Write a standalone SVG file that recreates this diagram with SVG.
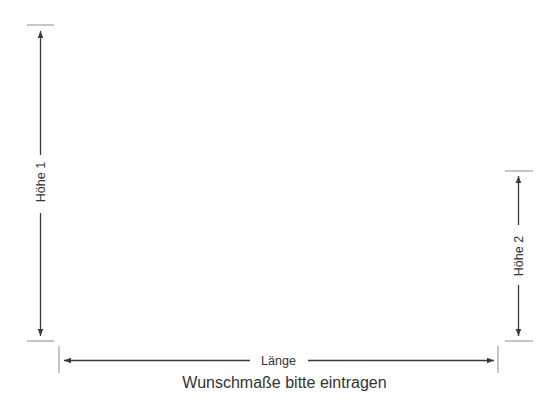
<svg xmlns="http://www.w3.org/2000/svg" width="560" height="420" viewBox="0 0 560 420">
<style>
.dim{stroke:#3a3a3a;stroke-width:1.3;fill:none}
.tick{stroke:#a0a0a0;stroke-width:1.2;fill:none}
.lbl{font-family:"Liberation Sans",Arial,sans-serif;font-size:12.5px;fill:#333;text-anchor:middle}
.cap{font-family:"Liberation Sans",Arial,sans-serif;font-size:16px;fill:#333;text-anchor:middle}
</style>
<defs>
<marker id="ah" viewBox="0 0 10 10" refX="10" refY="5" markerWidth="7" markerHeight="7" markerUnits="userSpaceOnUse" orient="auto-start-reverse">
<path d="M0,1 L10,5 L0,9 Z" fill="#3a3a3a"/>
</marker>
</defs>
<g id="ticks">
<line class="tick" x1="27" y1="25" x2="54" y2="25"/>
<line class="tick" x1="27" y1="341" x2="54" y2="341"/>
<line class="tick" x1="505" y1="171" x2="533" y2="171"/>
<line class="tick" x1="505" y1="341" x2="533" y2="341"/>
<line class="tick" x1="59" y1="346" x2="59" y2="373"/>
<line class="tick" x1="498" y1="346" x2="498" y2="373"/>
</g>
<g id="connectors">
<line class="dim" x1="40.5" y1="155" x2="40.5" y2="31" marker-end="url(#ah)"/>
<line class="dim" x1="40.5" y1="213" x2="40.5" y2="336" marker-end="url(#ah)"/>
<line class="dim" x1="518.5" y1="225" x2="518.5" y2="176" marker-end="url(#ah)"/>
<line class="dim" x1="518.5" y1="285" x2="518.5" y2="336" marker-end="url(#ah)"/>
<line class="dim" x1="250" y1="360.5" x2="64" y2="360.5" marker-end="url(#ah)"/>
<line class="dim" x1="308" y1="360.5" x2="494" y2="360.5" marker-end="url(#ah)"/>
</g>
<g id="hoehe1">
<text class="lbl" transform="translate(44.5,182) rotate(-90)">Höhe 1</text>
</g>
<g id="hoehe2">
<text class="lbl" transform="translate(523,256) rotate(-90)">Höhe 2</text>
</g>
<g id="laenge">
<text class="lbl" x="278.5" y="364.5">Länge</text>
</g>
<g id="caption">
<text class="cap" x="284.5" y="388">Wunschmaße bitte eintragen</text>
</g>
</svg>
